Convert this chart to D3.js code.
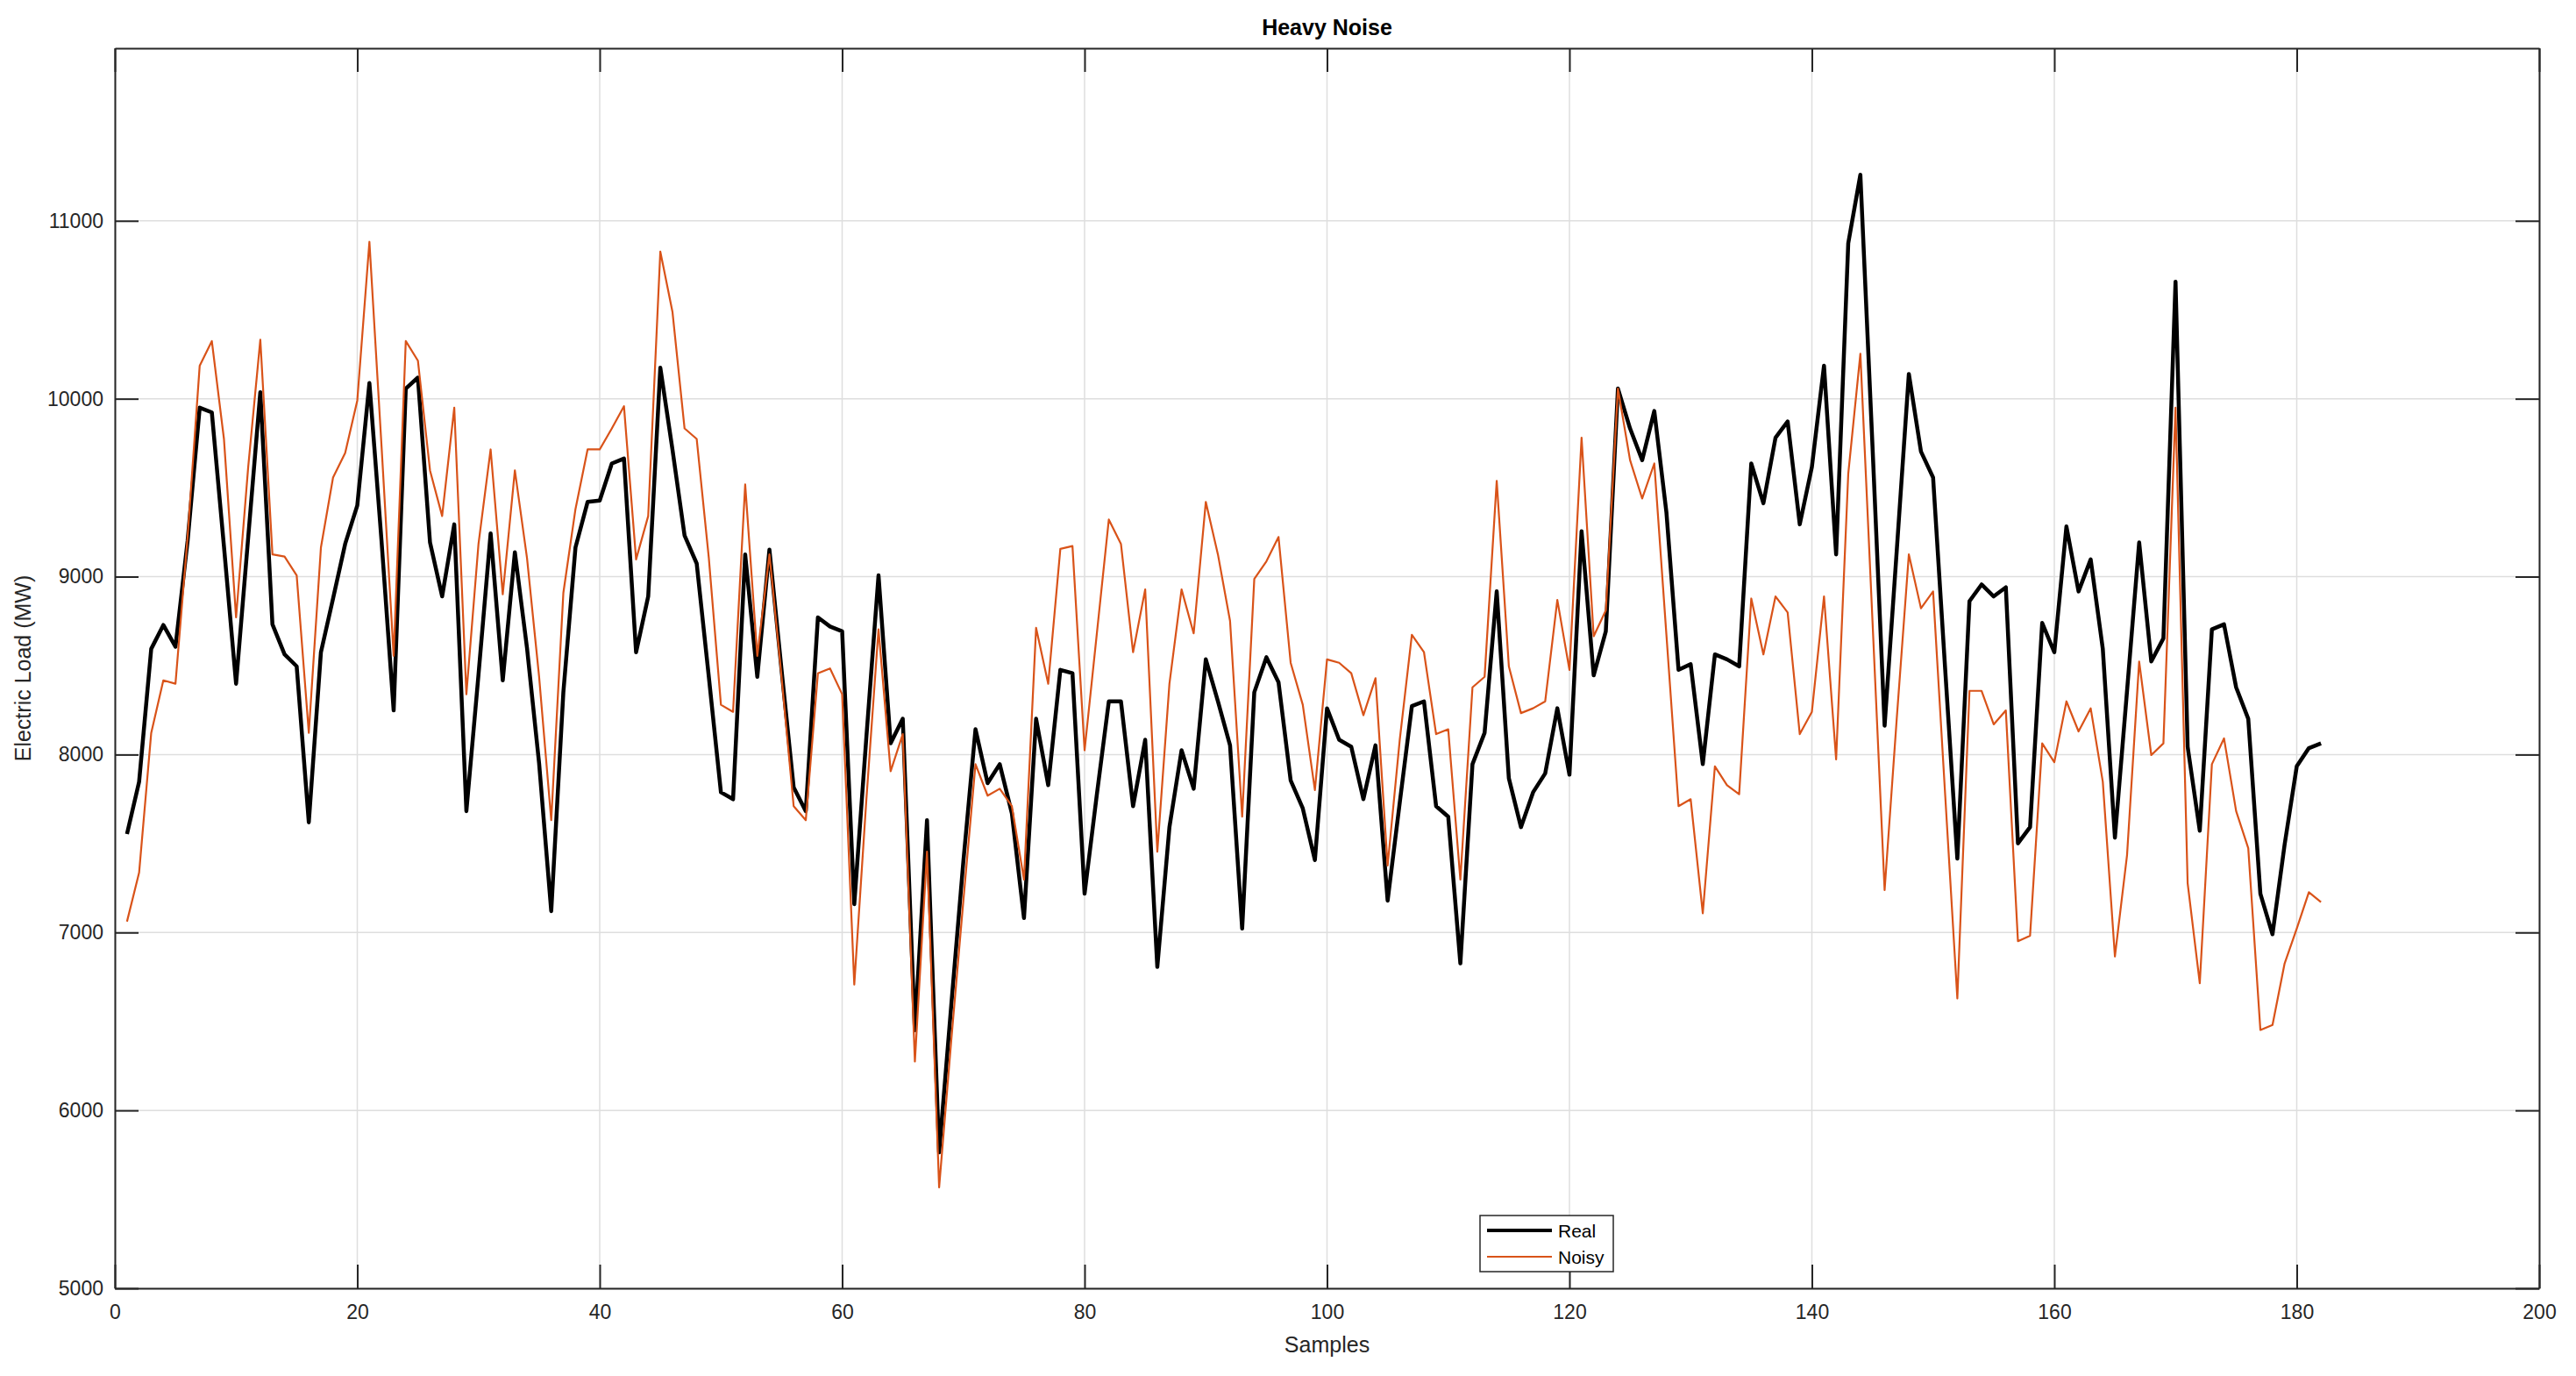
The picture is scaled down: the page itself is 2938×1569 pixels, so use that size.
<!DOCTYPE html>
<html lang="en">
<head>
<meta charset="utf-8">
<title>Heavy Noise</title>
<style>
  body { margin: 0; background: #fff; }
  svg { display: block; font-family: "Liberation Sans", Arial, Helvetica, sans-serif; }
</style>
</head>
<body>
<svg width="2938" height="1569"></svg>

<script src="https://d3js.org/d3.v7.min.js"></script>
<script>
// values, one per sample (1..182)
var realLoad = [
    7553, 7847, 8594, 8728, 8606, 9200, 9950, 9923, 9170, 8398,
    9220, 10037, 8732, 8563, 8496, 7619, 8575, 8877, 9184, 9400,
    10088, 9200, 8248, 10057, 10119, 9192, 8889, 9294, 7682, 8450,
    9243, 8417, 9137, 8600, 7950, 7120, 8350, 9164, 9420, 9428,
    9636, 9664, 8575, 8889, 10174, 9715, 9231, 9074, 8437, 7788,
    7749, 9125, 8437, 9152, 8476, 7816, 7682, 8771, 8720, 8693,
    7159, 8100, 9007, 8063, 8201, 6450, 7631, 5764, 6590, 7400,
    8142, 7839, 7946, 7670, 7081, 8201, 7828, 8476, 8457, 7218,
    7769, 8299, 8299, 7710, 8083, 6806, 7592, 8024, 7808, 8535,
    8299, 8052, 7022, 8350, 8547, 8406, 7855, 7698, 7407, 8260,
    8083, 8044, 7749, 8052, 7179, 7730, 8272, 8299, 7710, 7651,
    6826, 7946, 8122, 8917, 7867, 7592, 7788, 7894, 8260, 7887,
    9255, 8445, 8693, 10057, 9833, 9655, 9931, 9361, 8476, 8508,
    7946, 8563, 8535, 8496, 9636, 9412, 9781, 9872, 9294, 9616,
    10186, 9125, 10874, 11259, 9734, 8162, 9145, 10139, 9703, 9557,
    8476, 7415, 8862, 8956, 8889, 8940, 7501, 7592, 8740, 8575,
    9282, 8917, 9097, 8594, 7533, 8358, 9192, 8523, 8653, 10658,
    8044, 7572, 8704, 8732, 8378, 8201, 7218, 6990, 7494, 7934,
    8036, 8063
];

var noisyLoad = [
    7061, 7336, 8122, 8417, 8398, 9223, 10186, 10324, 9774, 8771,
    9616, 10332, 9125, 9113, 9007, 8122, 9164, 9557, 9695, 9990,
    10882, 9734, 8555, 10324, 10214, 9597, 9341, 9950, 8339, 9184,
    9715, 8901, 9597, 9105, 8437, 7631, 8909, 9380, 9715, 9715,
    9833, 9958, 9097, 9341, 10827, 10489, 9833, 9774, 9105, 8280,
    8240, 9518, 8555, 9125, 8437, 7710, 7631, 8457, 8484, 8339,
    6707, 7750, 8704, 7906, 8115, 6275, 7454, 5567, 6393, 7179,
    7946, 7769, 7808, 7710, 7297, 8712, 8398, 9156, 9172, 8024,
    8673, 9321, 9184, 8575, 8928, 7454, 8398, 8928, 8681, 9420,
    9125, 8751, 7651, 8987, 9086, 9223, 8516, 8280, 7800, 8535,
    8516, 8457, 8221, 8429, 7376, 8083, 8673, 8575, 8115, 8142,
    7297, 8378, 8437, 9538, 8496, 8233, 8260, 8299, 8869, 8476,
    9781, 8665, 8810, 10057, 9655, 9439, 9636, 8673, 7710, 7749,
    7108, 7934, 7828, 7777, 8877, 8563, 8889, 8799, 8115, 8240,
    8889, 7973, 9577, 10253, 8751, 7238, 8201, 9125, 8822, 8917,
    7769, 6629, 8358, 8358, 8170, 8248, 6951, 6982, 8063, 7957,
    8299, 8130, 8260, 7847, 6865, 7435, 8523, 7997, 8063, 9950,
    7277, 6715, 7946, 8091, 7682, 7474, 6452, 6480, 6826, 7022,
    7226, 7171
];

var seriesNames = ["Real", "Noisy"];
var xTicks = [0, 20, 40, 60, 80, 100, 120, 140, 160, 180, 200];
var yTicks = [5000, 6000, 7000, 8000, 9000, 10000, 11000];

var svg = d3.select("svg"),
    margin = { top: 55, right: 42, bottom: 100, left: 131 },
    width = +svg.attr("width") - margin.left - margin.right,
    height = +svg.attr("height") - margin.top - margin.bottom;

var axisColor = "#262626",
    gridColor = "#dedede",
    colors = ["#000000", "#d95319"],
    widths = [4.5, 2.2],
    tickLen = 27;

var x = d3.scaleLinear().domain([0, 200]).range([0, width]);
var y = d3.scaleLinear().domain([5000, 11970]).range([height, 0]);

var g = svg.append("g").attr("transform", "translate(" + margin.left + "," + margin.top + ")");

// grid
g.append("g").selectAll("line").data(xTicks).join("line")
    .attr("x1", function(d) { return x(d); }).attr("x2", function(d) { return x(d); })
    .attr("y1", 0).attr("y2", height)
    .attr("stroke", gridColor).attr("stroke-width", 1.5);
g.append("g").selectAll("line").data(yTicks).join("line")
    .attr("y1", function(d) { return y(d); }).attr("y2", function(d) { return y(d); })
    .attr("x1", 0).attr("x2", width)
    .attr("stroke", gridColor).attr("stroke-width", 1.5);

// lines
var line = d3.line()
    .x(function(d, i) { return x(i + 1); })
    .y(function(d) { return y(d); });

[realLoad, noisyLoad].forEach(function(vals, k) {
    g.append("path")
        .datum(vals)
        .attr("fill", "none")
        .attr("stroke", colors[k])
        .attr("stroke-width", widths[k])
        .attr("stroke-linejoin", "round")
        .attr("d", line);
});

// axes, ticks point inward like MATLAB
function styleAxis(sel) {
    sel.select(".domain").attr("stroke", axisColor).attr("stroke-width", 2);
    sel.selectAll(".tick line").attr("stroke", axisColor).attr("stroke-width", 2);
    sel.selectAll(".tick text").attr("fill", axisColor).style("font-size", "23px");
}

g.append("g").attr("transform", "translate(0," + height + ")")
    .call(d3.axisBottom(x).tickValues(xTicks).tickSizeInner(-tickLen).tickSizeOuter(0).tickPadding(19))
    .call(styleAxis);
g.append("g")
    .call(d3.axisLeft(y).tickValues(yTicks).tickFormat(d3.format("d"))
        .tickSizeInner(-tickLen).tickSizeOuter(0).tickPadding(13))
    .call(styleAxis);
g.append("g")
    .call(d3.axisTop(x).tickValues(xTicks).tickSizeInner(-tickLen).tickSizeOuter(0).tickFormat(""))
    .call(styleAxis);
g.append("g").attr("transform", "translate(" + width + ",0)")
    .call(d3.axisRight(y).tickValues(yTicks).tickSizeInner(-tickLen).tickSizeOuter(0).tickFormat(""))
    .call(styleAxis);

// title and labels
svg.append("text")
    .attr("x", margin.left + width / 2).attr("y", 40)
    .attr("text-anchor", "middle")
    .style("font-size", "25px").style("font-weight", "bold")
    .attr("fill", "#000")
    .text("Heavy Noise");

svg.append("text")
    .attr("x", margin.left + width / 2).attr("y", 1542)
    .attr("text-anchor", "middle")
    .style("font-size", "25px")
    .attr("fill", axisColor)
    .text("Samples");

svg.append("text")
    .attr("transform", "translate(35," + (margin.top + height / 2) + ") rotate(-90)")
    .attr("text-anchor", "middle")
    .style("font-size", "25px")
    .attr("fill", axisColor)
    .text("Electric Load (MW)");

// legend
var legend = svg.append("g").attr("transform", "translate(1688,1386)");
legend.append("rect")
    .attr("width", 152).attr("height", 64)
    .attr("fill", "#fff").attr("stroke", axisColor).attr("stroke-width", 1.5);
seriesNames.forEach(function(name, k) {
    var cy = 17 + k * 30;
    legend.append("line")
        .attr("x1", 8).attr("x2", 82).attr("y1", cy).attr("y2", cy)
        .attr("stroke", colors[k]).attr("stroke-width", k === 0 ? 4 : 2.2);
    legend.append("text")
        .attr("x", 89).attr("y", cy + 8)
        .style("font-size", "21px")
        .attr("fill", "#000")
        .text(name);
});
</script>
</body>
</html>
